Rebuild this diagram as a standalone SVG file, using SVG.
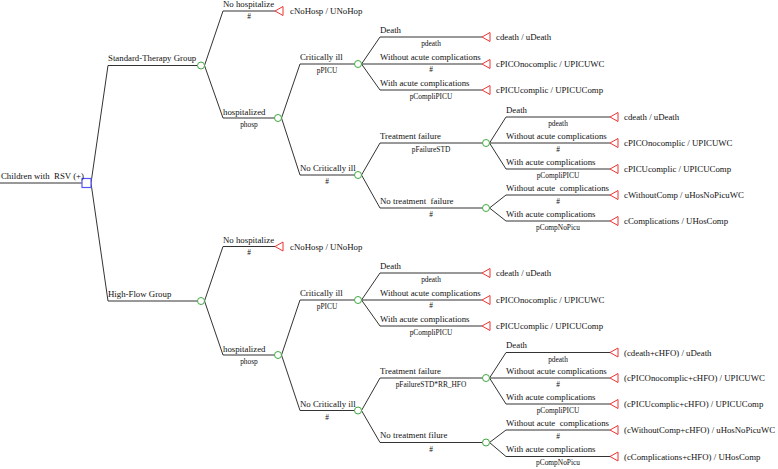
<svg xmlns="http://www.w3.org/2000/svg" width="778" height="469" viewBox="0 0 778 469">
<style>
.e{stroke:#333;stroke-width:1;fill:none}
.c{fill:#fff;stroke:#3fa83f;stroke-width:1}
.t{fill:#fff;stroke:#ee3333;stroke-width:1}
.s{fill:#fff;stroke:#5555ff;stroke-width:1.2}
text{font-family:"Liberation Serif","Times New Roman",serif;fill:#111;white-space:pre}
.l{font-size:8.8px}
.m{font-size:7.4px;text-anchor:middle}
</style>
<defs>
<polygon id="tri" class="t" points="0,0 8,-4.5 8,4.5"/>
<circle id="cir" class="c" r="3.5"/>
</defs>
<g id="connectors">
<polyline class="e" points="0,183 82,183"/>
<polyline class="e" points="91,183 108,65.5 197.5,65.5"/>
<polyline class="e" points="91,183 108,301 197.5,301"/>
<polyline class="e" points="204.5,65.5 223,11 275,11"/>
<polyline class="e" points="204.5,65.5 223,118 274.5,118"/>
<polyline class="e" points="281.5,118 300,64 354.5,64"/>
<polyline class="e" points="281.5,118 300,175 354.5,175"/>
<polyline class="e" points="361.5,64 380,37 482,37"/>
<polyline class="e" points="361.5,64 482,64"/>
<polyline class="e" points="361.5,64 380,90 482,90"/>
<polyline class="e" points="361.5,175 380,143 482.5,143"/>
<polyline class="e" points="361.5,175 380,208 482.5,208"/>
<polyline class="e" points="489.5,143 506,117 610,117"/>
<polyline class="e" points="489.5,143 610,143"/>
<polyline class="e" points="489.5,143 506,169 610,169"/>
<polyline class="e" points="489.5,208 506,195 610,195"/>
<polyline class="e" points="489.5,208 506,221 610,221"/>
<polyline class="e" points="204.5,301 223,246.5 275,246.5"/>
<polyline class="e" points="204.5,301 223,355 274.5,355"/>
<polyline class="e" points="281.5,355 300,300 354.5,300"/>
<polyline class="e" points="281.5,355 300,410.5 354.5,410.5"/>
<polyline class="e" points="361.5,300 380,273 482,273"/>
<polyline class="e" points="361.5,300 482,300"/>
<polyline class="e" points="361.5,300 380,326 482,326"/>
<polyline class="e" points="361.5,410.5 380,378 482.5,378"/>
<polyline class="e" points="361.5,410.5 380,442.5 482.5,442.5"/>
<polyline class="e" points="489.5,378 506,352.5 610,352.5"/>
<polyline class="e" points="489.5,378 610,378"/>
<polyline class="e" points="489.5,378 506,404 610,404"/>
<polyline class="e" points="489.5,442.5 506,430 610,430"/>
<polyline class="e" points="489.5,442.5 506,456.5 610,456.5"/>
</g>
<g id="root"><rect class="s" x="82" y="178.5" width="9" height="9"/><text class="l" x="1" y="179">Children with  RSV (+)</text></g>

<g id="st"><use href="#cir" x="201" y="65.5"/><text class="l" x="108" y="61">Standard-Therapy Group</text></g>
<g id="st-nohosp"><use href="#tri" x="275" y="11"/><text class="l" x="223" y="7">No hospitalize</text><text class="m" x="249" y="19">#</text><text class="l" x="290" y="14">cNoHosp / UNoHop</text></g>
<g id="st-hosp"><use href="#cir" x="278" y="118"/><text class="l" x="223" y="114.5">hospitalized</text><text class="m" x="249" y="127">phosp</text></g>
<g id="st-ci"><use href="#cir" x="358" y="64"/><text class="l" x="300" y="59.5">Critically ill</text><text class="m" x="327" y="73">pPICU</text></g>
<g id="st-ci-death"><use href="#tri" x="482" y="37"/><text class="l" x="380" y="32.5">Death</text><text class="m" x="431" y="46">pdeath</text><text class="l" x="496" y="40">cdeath / uDeath</text></g>
<g id="st-ci-wo"><use href="#tri" x="482" y="64"/><text class="l" x="380" y="59.5">Without acute complications</text><text class="m" x="431" y="72">#</text><text class="l" x="496" y="67">cPICOnocomplic / UPICUWC</text></g>
<g id="st-ci-w"><use href="#tri" x="482" y="90"/><text class="l" x="380" y="85.5">With acute complications</text><text class="m" x="431" y="99">pCompliPICU</text><text class="l" x="496" y="93">cPICUcomplic / UPICUComp</text></g>
<g id="st-nci"><use href="#cir" x="358" y="175"/><text class="l" x="300" y="171">No Critically ill</text><text class="m" x="327" y="184">#</text></g>
<g id="st-tf"><use href="#cir" x="486" y="143"/><text class="l" x="380" y="138.5">Treatment failure</text><text class="m" x="431" y="152">pFailureSTD</text></g>
<g id="st-tf-death"><use href="#tri" x="610" y="117"/><text class="l" x="506" y="112.5">Death</text><text class="m" x="558" y="126">pdeath</text><text class="l" x="624" y="120">cdeath / uDeath</text></g>
<g id="st-tf-wo"><use href="#tri" x="610" y="143"/><text class="l" x="506" y="138.5">Without acute complications</text><text class="m" x="558" y="152">#</text><text class="l" x="624" y="146">cPICOnocomplic / UPICUWC</text></g>
<g id="st-tf-w"><use href="#tri" x="610" y="169"/><text class="l" x="506" y="164.5">With acute complications</text><text class="m" x="558" y="178">pCompliPICU</text><text class="l" x="624" y="172">cPICUcomplic / UPICUComp</text></g>
<g id="st-ntf"><use href="#cir" x="486" y="208"/><text class="l" x="380" y="203.5">No treatment  failure</text><text class="m" x="431" y="217">#</text></g>
<g id="st-ntf-wo"><use href="#tri" x="610" y="195"/><text class="l" x="506" y="190.5">Without acute  complications</text><text class="m" x="558" y="204">#</text><text class="l" x="624" y="198">cWithoutComp / uHosNoPicuWC</text></g>
<g id="st-ntf-w"><use href="#tri" x="610" y="221"/><text class="l" x="506" y="216.5">With acute complications</text><text class="m" x="558" y="230">pCompNoPicu</text><text class="l" x="624" y="224">cComplications / UHosComp</text></g>

<g id="hf"><use href="#cir" x="201" y="301"/><text class="l" x="108" y="296.5">High-Flow Group</text></g>
<g id="hf-nohosp"><use href="#tri" x="275" y="246.5"/><text class="l" x="223" y="242.5">No hospitalize</text><text class="m" x="249" y="254.5">#</text><text class="l" x="290" y="249.5">cNoHosp / UNoHop</text></g>
<g id="hf-hosp"><use href="#cir" x="278" y="355"/><text class="l" x="223" y="351.5">hospitalized</text><text class="m" x="249" y="364">phosp</text></g>
<g id="hf-ci"><use href="#cir" x="358" y="300"/><text class="l" x="300" y="295.5">Critically ill</text><text class="m" x="327" y="309">pPICU</text></g>
<g id="hf-ci-death"><use href="#tri" x="482" y="273"/><text class="l" x="380" y="268.5">Death</text><text class="m" x="431" y="282">pdeath</text><text class="l" x="496" y="276">cdeath / uDeath</text></g>
<g id="hf-ci-wo"><use href="#tri" x="482" y="300"/><text class="l" x="380" y="295.5">Without acute complications</text><text class="m" x="431" y="308">#</text><text class="l" x="496" y="303">cPICOnocomplic / UPICUWC</text></g>
<g id="hf-ci-w"><use href="#tri" x="482" y="326"/><text class="l" x="380" y="321.5">With acute complications</text><text class="m" x="431" y="335">pCompliPICU</text><text class="l" x="496" y="329">cPICUcomplic / UPICUComp</text></g>
<g id="hf-nci"><use href="#cir" x="358" y="410.5"/><text class="l" x="300" y="406.5">No Critically ill</text><text class="m" x="327" y="419.5">#</text></g>
<g id="hf-tf"><use href="#cir" x="486" y="378"/><text class="l" x="380" y="373.5">Treatment failure</text><text class="m" x="431" y="387">pFailureSTD*RR_HFO</text></g>
<g id="hf-tf-death"><use href="#tri" x="610" y="352.5"/><text class="l" x="506" y="348">Death</text><text class="m" x="558" y="361.5">pdeath</text><text class="l" x="624" y="355.5">(cdeath+cHFO) / uDeath</text></g>
<g id="hf-tf-wo"><use href="#tri" x="610" y="378"/><text class="l" x="506" y="373.5">Without acute complications</text><text class="m" x="558" y="387">#</text><text class="l" x="624" y="381">(cPICOnocomplic+cHFO) / UPICUWC</text></g>
<g id="hf-tf-w"><use href="#tri" x="610" y="404"/><text class="l" x="506" y="399.5">With acute complications</text><text class="m" x="558" y="413">pCompliPICU</text><text class="l" x="624" y="407">(cPICUcomplic+cHFO) / UPICUComp</text></g>
<g id="hf-ntf"><use href="#cir" x="486" y="442.5"/><text class="l" x="380" y="438">No treatment filure</text><text class="m" x="431" y="451.5">#</text></g>
<g id="hf-ntf-wo"><use href="#tri" x="610" y="430"/><text class="l" x="506" y="425.5">Without acute  complications</text><text class="m" x="558" y="439">#</text><text class="l" x="624" y="433" textLength="151" lengthAdjust="spacingAndGlyphs">(cWithoutComp+cHFO) / uHosNoPicuWC</text></g>
<g id="hf-ntf-w"><use href="#tri" x="610" y="456.5"/><text class="l" x="506" y="452">With acute complications</text><text class="m" x="558" y="465">pCompNoPicu</text><text class="l" x="624" y="459.5">(cComplications+cHFO) / UHosComp</text></g>
</svg>
